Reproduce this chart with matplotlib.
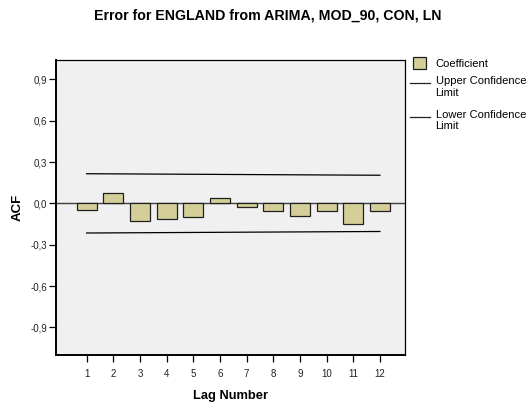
import numpy as np
import matplotlib.pyplot as plt
from matplotlib.patches import Rectangle
from matplotlib.lines import Line2D

plt.rcParams['font.family'] = ['Liberation Sans', 'DejaVu Sans']

# ACF values
lags = [1, 2, 3, 4, 5, 6, 7, 8, 9, 10, 11, 12]
coef = [-0.048, 0.078, -0.130, -0.113, -0.099, 0.036, -0.026, -0.053, -0.094, -0.053, -0.147, -0.053]
upper = [0.215, 0.214, 0.213, 0.212, 0.211, 0.210, 0.209, 0.208, 0.207, 0.206, 0.205, 0.204]
lower = [-0.215, -0.214, -0.213, -0.212, -0.211, -0.210, -0.209, -0.208, -0.207, -0.206, -0.205, -0.204]
yticks = [-0.9, -0.6, -0.3, 0.0, 0.3, 0.6, 0.9]
ytick_labels = ['-0,9', '-0,6', '-0,3', '0,0', '0,3', '0,6', '0,9']

W, H = 531, 405
bar_color = '#d4cf98'


def px(x, y):
    # pixel position -> figure fraction
    return x / W, 1 - y / H


fig = plt.figure(figsize=(W / 100, H / 100), dpi=100)
ax = fig.add_axes([56 / W, 1 - 355 / H, (405 - 56) / W, (355 - 60) / H])
ax.set_facecolor('#f0f0f0')

ax.bar(lags, coef, width=0.75, color=bar_color, edgecolor='#202020', linewidth=0.9, zorder=3)
ax.axhline(0, color='#404040', linewidth=1.0, zorder=2)
ax.plot(lags, upper, color='black', linewidth=0.9, zorder=2)
ax.plot(lags, lower, color='black', linewidth=0.9, zorder=2)

ax.set_xlim(-0.15, 12.94)
ax.set_ylim(-1.10, 1.04)
ax.set_xticks(lags)
ax.set_xticklabels([str(l) for l in lags], fontsize=7, color='#222222')
ax.set_yticks(yticks)
ax.set_yticklabels(ytick_labels, fontsize=7, color='#222222')
ax.tick_params(axis='x', length=5, width=0.9, pad=5)
ax.tick_params(axis='y', length=5, width=0.9, pad=1.5)
for side in ['left', 'bottom']:
    ax.spines[side].set_linewidth(1.4)
for side in ['top', 'right']:
    ax.spines[side].set_linewidth(0.9)

ax.set_xlabel('Lag Number', fontsize=9.3, fontweight='bold', labelpad=8)
ax.set_ylabel('ACF', fontsize=9.5, fontweight='bold', labelpad=5)

fig.text(*px(268, 16), 'Error for ENGLAND from ARIMA, MOD_90, CON, LN',
         ha='center', va='center', fontsize=10.2, fontweight='bold')

# legend, drawn by hand to the right of the plot
x0, y0 = px(413, 68.5)
x1, y1 = px(426.5, 57.5)
fig.patches.append(Rectangle((x0, y0), x1 - x0, y1 - y0, transform=fig.transFigure,
                             facecolor=bar_color, edgecolor='#202020', linewidth=0.9))
fig.text(*px(435.5, 67.3), 'Coefficient', ha='left', va='baseline', fontsize=8)
for ly, label in [(83.3, 'Upper Confidence'), (116.5, 'Lower Confidence')]:
    lx0, lyy = px(410, ly)
    lx1, _ = px(430, ly)
    fig.lines.append(Line2D([lx0, lx1], [lyy, lyy], transform=fig.transFigure,
                            color='#222222', linewidth=0.9))
    fig.text(*px(435.5, ly + 1.2), label, ha='left', va='baseline', fontsize=8)
    fig.text(*px(435.5, ly + 12.8), 'Limit', ha='left', va='baseline', fontsize=8)

fig.savefig('out.png', dpi=100)
